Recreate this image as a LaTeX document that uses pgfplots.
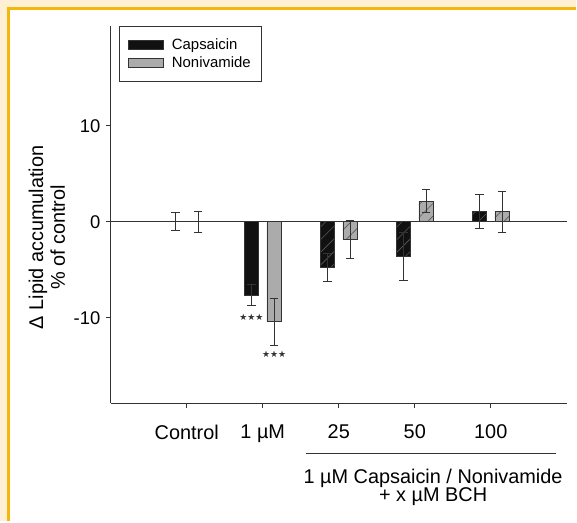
\documentclass[border=0pt]{standalone}
\usepackage{fontspec}
\setmainfont{Liberation Sans}
\newfontfamily\djv{DejaVu Sans}
\usepackage{pgfplots}
\pgfplotsset{compat=1.18}
\usetikzlibrary{patterns.meta}
\definecolor{cream}{HTML}{FDF0D4}
\definecolor{gold}{HTML}{F5B70C}
\definecolor{capcol}{HTML}{111111}
\definecolor{nonicol}{HTML}{ABABAB}
\definecolor{edge}{HTML}{333333}
\pgfplotsset{
  boxlegend/.style={legend image code/.code={\draw[##1] (0bp,-4.5bp) rectangle (35bp,4.5bp); \path[draw=none,fill=none] (0bp,0bp) -- (42bp,0bp);}},
  myerr/.style={error bars/.cd, y dir=both, y explicit,
    error bar style={draw=edge, line width=0.8bp},
    error mark options={rotate=90, draw=edge, line width=0.8bp, mark size=4.2bp}},
  hatch/.style={postaction={pattern={Lines[angle=45,distance=9bp,line width=0.6bp]}, pattern color=black!65}},
}
\begin{document}
\begin{tikzpicture}[x=1bp,y=1bp]
\fill[cream] (0,0) rectangle (577,-522);
\fill[white] (10,-10) rectangle (577,-522);
\draw[gold, line width=2.5bp] (8.75,-522) -- (8.75,-8.75) -- (577,-8.75);
\begin{axis}[
  at={(111bp,-404bp)}, anchor=south west,
  scale only axis, width=457bp, height=378bp,
  xmin=-1, xmax=5, ymin=-18.9, ymax=20.4,
  axis x line*=bottom, axis y line*=left,
  axis line style={draw=edge, line width=0.9bp},
  every axis plot/.append style={line width=0.8bp},
  ybar, bar width=14.5bp,
  xtick={0,1,2,3,4}, xticklabels={Control, 1 µM, 25, 50, 100},
  ytick={-10,0,10},
  tick align=outside, major tick length=5bp,
  tick style={draw=edge, line width=0.9bp},
  /pgf/number format/assume math mode=true,
  xticklabel style={font=\fontsize{20}{22}\selectfont, yshift=-13bp},
  yticklabel style={font=\fontsize{18.5}{20}\selectfont, xshift=-2bp},
  legend style={at={(0.0175,1)}, anchor=north west, draw=edge, line width=0.8bp,
    font=\fontsize{15}{17}\selectfont, inner xsep=8.5bp, inner ysep=10bp,
    row sep=2.5bp, legend cell align=left},
  clip=false,
]
\draw[edge, line width=0.9bp] (axis cs:-1,0) -- (axis cs:5,0);
% Capsaicin plain
\addplot[fill=capcol, draw=edge, bar shift=-0.15, boxlegend, myerr]
  coordinates {(0,0) +- (0,0.95) (1,-7.65) +- (0,1.1)};
% Nonivamide plain
\addplot[fill=nonicol, draw=edge, bar shift=0.15, boxlegend, myerr]
  coordinates {(0,0) +- (0,1.1) (1,-10.4) +- (0,2.45)};
% Capsaicin hatched
\addplot[fill=capcol, draw=edge, bar shift=-0.15, forget plot, hatch, myerr]
  coordinates {(2,-4.78) +- (0,1.47) (3,-3.64) +- (0,2.5) (4,1.04) +- (0,1.77)};
% Nonivamide hatched
\addplot[fill=nonicol, draw=edge, bar shift=0.15, forget plot, hatch, myerr]
  coordinates {(2,-1.84) +- (0,2.0) (3,2.14) +- (0,1.2) (4,1.04) +- (0,2.16)};
\legend{Capsaicin, Nonivamide}
\node[font=\djv\fontsize{9}{9}\selectfont, text=edge] at (axis cs:0.85,-9.95) {★★★};
\node[font=\djv\fontsize{9}{9}\selectfont, text=edge] at (axis cs:1.15,-13.85) {★★★};
\end{axis}
\node[rotate=90, align=center, font=\fontsize{20}{22}\selectfont] at (47,-238) {Δ Lipid accumulation\\\% of control};
\draw[edge, line width=0.9bp] (307,-454) -- (557,-454);
\node[font=\fontsize{20}{22}\selectfont] at (434,-479) {1 µM Capsaicin / Nonivamide};
\node[font=\fontsize{20}{22}\selectfont] at (434,-498) {+ x µM BCH};
\useasboundingbox (0,0) rectangle (577,-522);
\end{tikzpicture}
\end{document}
